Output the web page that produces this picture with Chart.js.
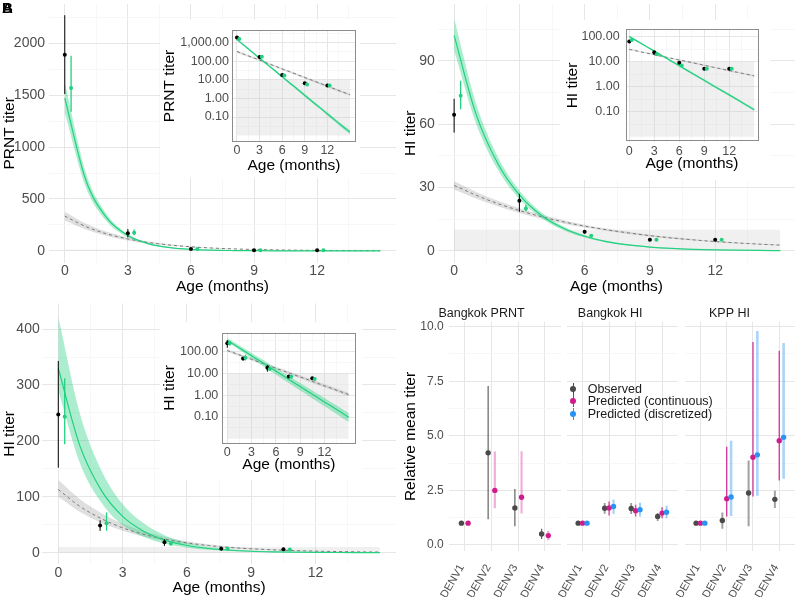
<!DOCTYPE html>
<html>
<head>
<meta charset="utf-8">
<script src="https://cdn.jsdelivr.net/npm/chart.js@4.4.1/dist/chart.umd.min.js"></script>
<style>
  html, body { margin:0; padding:0; background:#fff; }
  body { width:799px; height:597px; position:relative; overflow:hidden; font-family:'Liberation Sans', Arial, sans-serif; }
  canvas { position:absolute; }
  .tag { position:absolute; left:2px; top:0px; font-weight:bold; font-size:15px; line-height:16px; color:#000; }
  .lrow { position:absolute; white-space:nowrap; height:12px; line-height:12px; font-size:12.5px; color:#1a1a1a; }
  .mk { position:absolute; left:0; top:0; width:8px; height:12px; }
  .mk .ln { position:absolute; left:3.4px; top:0; width:1.2px; height:12px; }
  .mk .dt { position:absolute; left:1px; top:3px; width:6px; height:6px; border-radius:50%; }
  .lt { position:absolute; left:18.4px; top:0; }
</style>
</head>
<body>
<canvas id="mainA" width="400" height="296" style="left:0;top:0"></canvas>
<canvas id="mainB" width="399" height="296" style="left:400px;top:0"></canvas>
<canvas id="mainC" width="400" height="301" style="left:0;top:296px"></canvas>
<canvas id="facet1" width="165" height="297" style="left:400px;top:300px"></canvas>
<canvas id="facet2" width="142" height="297" style="left:540px;top:300px"></canvas>
<canvas id="facet3" width="139" height="297" style="left:660px;top:300px"></canvas>
<canvas id="insetA" width="200" height="158" style="left:160px;top:20px"></canvas>
<canvas id="insetB" width="210" height="160" style="left:560px;top:20px"></canvas>
<canvas id="insetC" width="202" height="158" style="left:160px;top:322px"></canvas>
<div id="legend"></div>
<div class="tag">A</div><div class="tag">B</div>
<script>
// ---------------- DATA ----------------
const curveMonths = [0,1,2,3,4,5,6,7,8,9,10,11,12,13,14,15];
const detectionLimit = 10;
const rectFloor = 0.01;

// Panel A: Bangkok PRNT
const prntObsAge   = [0, 3, 6, 9, 12];
const prntObsTiter = [1890, 170, 18, 6.5, 5];
const prntObsLo    = [1510, 130, 15, 5.8, 4.5];
const prntObsHi    = [2270, 210, 21, 7.2, 5.5];
const prntPredAge   = [0.3, 3.3, 6.3, 9.3, 12.3];
const prntPredTiter = [1570, 175, 17, 5.7, 5];
const prntPredLo    = [1340, 150, 15, 5.2, 4.6];
const prntPredHi    = [1880, 205, 19, 6.2, 5.4];
const prntFit   = [1470, 682, 317, 147, 68, 32, 14.7, 6.8, 3.2, 1.47, 0.68, 0.32, 0.147, 0.068, 0.032, 0.0155];
const prntFitLo = [1330, 614, 284, 131, 60, 28, 12.8, 5.9, 2.7, 1.25, 0.57, 0.27, 0.12, 0.055, 0.025, 0.012];
const prntFitHi = [1620, 752, 350, 163, 76, 36, 16.6, 7.8, 3.7, 1.72, 0.81, 0.38, 0.18, 0.084, 0.04, 0.02];
const prntExp   = [335, 234, 164, 115, 80, 56, 39, 27.5, 19.2, 13.4, 9.4, 6.6, 4.6, 3.2, 2.25, 1.6];
const prntExpLo = [292, 205, 144, 101, 70, 49, 34, 24, 16.8, 11.7, 8.2, 5.7, 4.0, 2.8, 1.95, 1.38];
const prntExpHi = [378, 263, 184, 129, 90, 63, 44, 31, 21.6, 15.1, 10.6, 7.4, 5.2, 3.6, 2.55, 1.82];

// Panel B: Bangkok HI
const bhiObsAge   = [0, 3, 6, 9, 12];
const bhiObsTiter = [64.5, 23.7, 9.0, 5.2, 5.2];
const bhiObsLo    = [56, 18.5, 8.2, 4.8, 4.8];
const bhiObsHi    = [72, 27, 9.8, 5.6, 5.6];
const bhiPredAge   = [0.3, 3.3, 6.3, 9.3, 12.3];
const bhiPredTiter = [73.5, 20.1, 7.1, 5.2, 5.2];
const bhiPredLo    = [67, 18.6, 6.6, 4.9, 4.9];
const bhiPredHi    = [80.5, 21.8, 7.6, 5.5, 5.5];
const bhiFit   = [102, 65, 41.5, 26.5, 16.9, 10.8, 6.9, 4.4, 2.8, 1.8, 1.14, 0.73, 0.47, 0.30, 0.19, 0.12];
const bhiFitLo = [95, 60.5, 38.5, 24.5, 15.6, 9.9, 6.3, 4.0, 2.55, 1.62, 1.03, 0.66, 0.42, 0.27, 0.17, 0.105];
const bhiFitHi = [110, 70, 44.7, 28.6, 18.3, 11.7, 7.5, 4.8, 3.1, 1.98, 1.26, 0.81, 0.52, 0.33, 0.21, 0.135];
const bhiExp   = [31, 26.4, 22.4, 19.1, 16.2, 13.8, 11.7, 10.0, 8.5, 7.2, 6.1, 5.2, 4.4, 3.75, 3.2, 2.7];
const bhiExpLo = [29.1, 24.8, 21.1, 17.9, 15.2, 13.0, 11.0, 9.4, 8.0, 6.8, 5.7, 4.9, 4.1, 3.5, 3.0, 2.5];
const bhiExpHi = [32.9, 28.0, 23.7, 20.2, 17.2, 14.6, 12.4, 10.6, 9.0, 7.6, 6.5, 5.5, 4.7, 4.0, 3.4, 2.9];

// Panel C: KPP HI
const khiObsAge   = [0, 1.95, 4.95, 7.6, 10.5];
const khiObsTiter = [247, 48.5, 18.5, 7.2, 6];
const khiObsLo    = [152, 39, 12, 6.2, 5.2];
const khiObsHi    = [343, 58, 24, 8.2, 6.8];
const khiPredAge   = [0.3, 2.25, 5.25, 7.9, 10.8];
const khiPredTiter = [243, 52.5, 16, 7, 5.5];
const khiPredLo    = [194, 39, 14, 6.3, 5];
const khiPredHi    = [312, 72, 19, 7.7, 6];
const khiFit   = [330, 192, 112, 65, 38, 22, 12.8, 7.4, 4.3, 2.5, 1.46, 0.85, 0.49, 0.29, 0.17, 0.098];
const khiFitLo = [290, 161, 90, 49, 28, 15.8, 9.0, 5.0, 2.9, 1.65, 0.95, 0.54, 0.31, 0.18, 0.104, 0.059];
const khiFitHi = [422, 250, 148, 87, 52, 30.4, 17.9, 10.5, 6.2, 3.65, 2.16, 1.28, 0.745, 0.444, 0.262, 0.152];
const khiExp   = [113, 83, 61, 44.5, 32.6, 23.9, 17.5, 12.8, 9.4, 6.9, 5.1, 3.7, 2.7, 2.0, 1.46, 1.07];
const khiExpLo = [100, 73, 53.5, 39, 28.5, 20.9, 15.2, 11.1, 8.1, 5.95, 4.4, 3.15, 2.3, 1.7, 1.23, 0.89];
const khiExpHi = [130, 96, 71, 52, 38, 28, 20.6, 15.1, 11.1, 8.2, 6.1, 4.4, 3.25, 2.4, 1.76, 1.3];

// Panel D: relative mean titers
const serotypes = ['DENV1', 'DENV2', 'DENV3', 'DENV4'];
const seriesNames = ['Observed', 'Predicted (continuous)', 'Predicted (discretized)'];
const bkkPrntObs    = [1.0, 4.22, 1.70, 0.50];
const bkkPrntObsLo  = [1.0, 1.18, 0.86, 0.27];
const bkkPrntObsHi  = [1.0, 7.28, 2.57, 0.74];
const bkkPrntCont   = [1.0, 2.50, 2.19, 0.43];
const bkkPrntContLo = [1.0, 1.68, 1.44, 0.22];
const bkkPrntContHi = [1.0, 4.28, 4.30, 0.65];
const bkkHiObs    = [1.0, 1.68, 1.67, 1.31];
const bkkHiObsLo  = [1.0, 1.43, 1.42, 1.10];
const bkkHiObsHi  = [1.0, 1.92, 1.92, 1.46];
const bkkHiCont   = [1.0, 1.70, 1.57, 1.46];
const bkkHiContLo = [1.0, 1.35, 1.30, 1.22];
const bkkHiContHi = [1.0, 1.99, 1.84, 1.73];
const bkkHiDisc   = [1.0, 1.76, 1.62, 1.50];
const bkkHiDiscLo = [1.0, 1.42, 1.30, 1.22];
const bkkHiDiscHi = [1.0, 2.08, 1.93, 1.80];
const kppHiObs    = [1.0, 1.12, 2.38, 2.09];
const kppHiObsLo  = [1.0, 0.74, 0.86, 1.70];
const kppHiObsHi  = [1.0, 1.49, 3.87, 2.48];
const kppHiCont   = [1.0, 2.12, 4.02, 4.78];
const kppHiContLo = [1.0, 1.31, 2.22, 2.95];
const kppHiContHi = [1.0, 4.50, 9.30, 8.90];
const kppHiDisc   = [1.0, 2.20, 4.13, 4.93];
const kppHiDiscLo = [1.0, 1.33, 2.26, 3.03];
const kppHiDiscHi = [1.0, 4.78, 9.80, 9.25];

// tick labels
const xMajor = [0, 3, 6, 9, 12];
const xMinor = [1.5, 4.5, 7.5, 10.5, 13.5];
const yMajorA = [0, 500, 1000, 1500, 2000], yMinorA = [250, 750, 1250, 1750, 2250];
const yMajorB = [0, 30, 60, 90], yMinorB = [15, 45, 75, 105];
const yMajorC = [0, 100, 200, 300, 400], yMinorC = [50, 150, 250, 350];
const logMajor = [0.1, 1, 10, 100, 1000];
const logLabels = ['0.10', '1.00', '10.00', '100.00', '1,000.00'];
const logMinor = [0.0316, 0.316, 3.16, 31.6, 316, 3162];
const relMajor = [0, 2.5, 5, 7.5, 10];
const relLabels = ['0.0', '2.5', '5.0', '7.5', '10.0'];
const relMinor = [1.25, 3.75, 6.25, 8.75];

// ---------------- STYLE ----------------
Chart.defaults.font.family = "'Liberation Sans', Arial, sans-serif";
const TICK_COL = '#4d4d4d', TITLE_COL = '#000000';
const GRID_MAJ = '#e6e6e6', GRID_MIN = '#f3f3f3';
const GREEN = '#22d07f', GREEN_BAND = 'rgba(34,208,127,0.38)';
const GRAY_LINE = '#7a7a7a', GRAY_BAND = 'rgba(140,140,140,0.28)';
const RECT_FILL = 'rgba(200,200,200,0.28)';
const OBS_COL = '#4a4a4a', CONT_COL = '#d01c8b', DISC_COL = '#2a94f2';
const dodgeWidth = 0.5;

function axis(o) {
  const all = o.majors.concat(o.minors).sort((a, b) => a - b);
  const isMaj = v => o.majors.includes(v);
  return {
    type: o.type, min: o.min, max: o.max, bounds: 'data',
    afterBuildTicks: s => { s.ticks = all.filter(v => v >= o.min && v <= o.max).map(v => ({value: v})); },
    afterFit: s => {
      if (o.horizontal) s.height = o.size; else s.width = o.size;
      s.paddingTop = 0; s.paddingBottom = 0; s.paddingLeft = 0; s.paddingRight = 0;
    },
    grid: {
      color: c => (c.tick && isMaj(c.tick.value)) ? GRID_MAJ : GRID_MIN,
      lineWidth: c => (c.tick && isMaj(c.tick.value)) ? 1 : 0.7,
      drawTicks: false
    },
    border: {display: false},
    ticks: {
      display: o.showTicks !== false,
      callback: v => { const i = o.majors.indexOf(v); return i >= 0 ? o.labels[i] : ''; },
      color: TICK_COL, font: {size: o.tickFont}, padding: o.tickPad,
      autoSkip: false, maxRotation: o.rot || 0, minRotation: o.rot || 0,
      labelOffset: o.labelOffset || 0
    },
    title: o.title ? {display: true, text: o.title, color: TITLE_COL, font: {size: 15.5}, padding: o.titlePad}
                   : {display: false}
  };
}

function baseOpts(pad, scales, titleText) {
  return {
    responsive: false, animation: false, devicePixelRatio: 1, events: [],
    layout: {padding: pad},
    plugins: {
      legend: {display: false}, tooltip: {enabled: false},
      title: titleText ? {display: true, text: titleText, color: '#1a1a1a',
                          font: {size: 12.5, weight: 'normal'}, padding: {top: 6.5, bottom: 0.4}}
                       : {display: false}
    },
    scales
  };
}

const insetFrame = {
  id: 'insetFrame',
  beforeDraw(chart) {
    const c = chart.ctx; c.save(); c.fillStyle = '#ffffff'; c.fillRect(0, 0, chart.width, chart.height); c.restore();
  },
  afterDraw(chart) {
    const a = chart.chartArea, c = chart.ctx;
    c.save(); c.strokeStyle = '#8c8c8c'; c.lineWidth = 1;
    c.strokeRect(Math.round(a.left) + 0.5, Math.round(a.top) + 0.5, Math.round(a.right - a.left) - 1, Math.round(a.bottom - a.top) - 1);
    c.restore();
  }
};

const NONE = 'rgba(0,0,0,0)';
function titerDatasets(p, log) {
  const curve = ys => curveMonths.map((x, i) => ({x, y: ys[i]}));
  const pts = (xs, ys) => xs.map((x, i) => ({x, y: ys[i]}));
  const bars = (xs, lo, hi) => xs.flatMap((x, i) => [{x, y: lo[i]}, {x, y: hi[i]}, {x, y: null}]);
  const first = curveMonths[0], last = curveMonths[curveMonths.length - 1];
  const sm = {cubicInterpolationMode: 'monotone', pointRadius: 0};
  return [
    {data: [{x: first, y: detectionLimit}, {x: last, y: detectionLimit}], fill: {value: log ? rectFloor : 0},
     backgroundColor: RECT_FILL, borderColor: NONE, borderWidth: 0, pointRadius: 0, order: 20},
    {data: curve(p.expHi), ...sm, borderColor: NONE, borderWidth: 0, fill: false, order: 19},
    {data: curve(p.expLo), ...sm, borderColor: NONE, borderWidth: 0, fill: '-1', backgroundColor: GRAY_BAND, order: 18},
    {data: curve(p.fitHi), ...sm, borderColor: NONE, borderWidth: 0, fill: false, order: 17},
    {data: curve(p.fitLo), ...sm, borderColor: NONE, borderWidth: 0, fill: '-1', backgroundColor: GREEN_BAND, order: 16},
    {data: curve(p.exp), ...sm, borderColor: GRAY_LINE, borderWidth: 1, borderDash: [3, 3], fill: false, order: 15},
    {data: curve(p.fit), ...sm, borderColor: GREEN, borderWidth: 1.2, fill: false, order: 14},
    {data: bars(p.obsAge, p.obsLo, p.obsHi), borderColor: '#000', borderWidth: 1, pointRadius: 0, fill: false, order: 13},
    {data: pts(p.obsAge, p.obs), showLine: false, pointRadius: 2, pointBackgroundColor: '#000', pointBorderWidth: 0, order: 12},
    {data: bars(p.predAge, p.predLo, p.predHi), borderColor: GREEN, borderWidth: 1.3, pointRadius: 0, fill: false, order: 11},
    {data: pts(p.predAge, p.pred), showLine: false, pointRadius: 2, pointBackgroundColor: GREEN, pointBorderWidth: 0, order: 10}
  ];
}

function titerChart(id, p, log, g) {
  const x = axis({type: 'linear', min: g.xMin, max: g.xMax, majors: xMajor, minors: xMinor, labels: xMajor.map(String),
                  horizontal: true, size: g.xSize, tickFont: g.tf, tickPad: g.xPad, title: 'Age (months)',
                  titlePad: {top: 0, bottom: g.xtPad}});
  const y = axis({type: log ? 'logarithmic' : 'linear', min: g.yMin, max: g.yMax, majors: g.yMajor, minors: g.yMinor,
                  labels: g.yLabels, size: g.ySize, tickFont: g.tf, tickPad: g.yPad, title: p.label,
                  titlePad: {top: g.ytPad, bottom: 0}});
  new Chart(document.getElementById(id), {
    type: 'line', data: {datasets: titerDatasets(p, log)},
    options: baseOpts(g.pad, {x, y}), plugins: log ? [insetFrame] : []
  });
}

const panelA = {label: 'PRNT titer', obsAge: prntObsAge, obs: prntObsTiter, obsLo: prntObsLo, obsHi: prntObsHi,
  predAge: prntPredAge, pred: prntPredTiter, predLo: prntPredLo, predHi: prntPredHi,
  fit: prntFit, fitLo: prntFitLo, fitHi: prntFitHi, exp: prntExp, expLo: prntExpLo, expHi: prntExpHi};
const panelB = {label: 'HI titer', obsAge: bhiObsAge, obs: bhiObsTiter, obsLo: bhiObsLo, obsHi: bhiObsHi,
  predAge: bhiPredAge, pred: bhiPredTiter, predLo: bhiPredLo, predHi: bhiPredHi,
  fit: bhiFit, fitLo: bhiFitLo, fitHi: bhiFitHi, exp: bhiExp, expLo: bhiExpLo, expHi: bhiExpHi};
const panelC = {label: 'HI titer', obsAge: khiObsAge, obs: khiObsTiter, obsLo: khiObsLo, obsHi: khiObsHi,
  predAge: khiPredAge, pred: khiPredTiter, predLo: khiPredLo, predHi: khiPredHi,
  fit: khiFit, fitLo: khiFitLo, fitHi: khiFitHi, exp: khiExp, expLo: khiExpLo, expHi: khiExpHi};

// main panels
titerChart('mainA', panelA, false, {xMin: -0.75, xMax: 15.75, xSize: 33.4, xPad: 0, xtPad: 0.4, tf: 14,
  yMin: -113, yMax: 2378, yMajor: yMajorA, yMinor: yMinorA, yLabels: yMajorA.map(String), ySize: 49, yPad: 4, ytPad: 0,
  pad: {top: 1, right: 3, left: 0, bottom: 0}});
titerChart('mainB', panelB, false, {xMin: -0.75, xMax: 15.67, xSize: 33.4, xPad: 0, xtPad: 0.4, tf: 14,
  yMin: -5.57, yMax: 116.9, yMajor: yMajorB, yMinor: yMinorB, yLabels: yMajorB.map(String), ySize: 37.8, yPad: 3, ytPad: 1.7,
  pad: {top: 1, right: 0, left: 0, bottom: 0}});
titerChart('mainC', panelC, false, {xMin: -0.75, xMax: 15.75, xSize: 32.6, xPad: 0, xtPad: 0.4, tf: 14,
  yMin: -21, yMax: 446, yMajor: yMajorC, yMinor: yMinorC, yLabels: yMajorC.map(String), ySize: 42.2, yPad: 2.5, ytPad: 0,
  pad: {top: 7.4, right: 3.9, left: 0, bottom: 0}});

// insets (log scale)
titerChart('insetA', panelA, true, {xMin: -0.66, xMax: 15.8, xSize: 36, xPad: 1.5, xtPad: 3.2, tf: 12.5,
  yMin: 0.00453, yMax: 4820, yMajor: logMajor, yMinor: logMinor, yLabels: logLabels, ySize: 72, yPad: 3, ytPad: 0,
  pad: {top: 10, right: 4, left: 0, bottom: 0}});
titerChart('insetB', panelB, true, {xMin: -0.43, xMax: 15.49, xSize: 38.3, xPad: 2.5, xtPad: 6.7, tf: 12.5,
  yMin: 0.0063, yMax: 198, yMajor: logMajor, yMinor: logMinor, yLabels: logLabels, ySize: 65.7, yPad: 6, ytPad: 3.2,
  pad: {top: 9.3, right: 11.7, left: 0, bottom: 0}});
titerChart('insetC', panelC, true, {xMin: -0.69, xMax: 15.9, xSize: 36.7, xPad: 1.9, xtPad: 5.7, tf: 12.5,
  yMin: 0.0062, yMax: 745, yMajor: logMajor, yMinor: logMinor, yLabels: logLabels, ySize: 61.7, yPad: 3.4, ytPad: 0,
  pad: {top: 10.7, right: 6, left: 0, bottom: 0}});

// facets
function facetChart(id, title, groups, g) {
  const n = groups.length, ds = [];
  groups.forEach((s, gi) => {
    const off = (gi - (n - 1) / 2) * dodgeWidth / n;
    const xs = serotypes.map((_, i) => i + 1 + off);
    ds.push({data: xs.flatMap((x, i) => [{x, y: s.lo[i]}, {x, y: s.hi[i]}, {x, y: null}]),
             borderColor: s.barColor, borderWidth: s.barWidth, pointRadius: 0, fill: false, order: 10 - gi * 2});
    ds.push({data: xs.map((x, i) => ({x, y: s.vals[i]})), showLine: false, pointRadius: 2.7, pointBorderWidth: 0,
             pointBackgroundColor: s.color, pointBorderColor: s.color, order: 9 - gi * 2});
  });
  const x = axis({type: 'linear', min: 0.4, max: 4.6, majors: [1, 2, 3, 4], minors: [], labels: serotypes,
                  horizontal: true, size: 45.9, tickFont: 11, tickPad: 11, rot: 60, labelOffset: -3});
  const y = axis({type: 'linear', min: -0.28, max: 10.22, majors: relMajor, minors: relMinor, labels: relLabels,
                  size: g.ySize, tickFont: 12, tickPad: 5, showTicks: g.showY,
                  title: g.showY ? 'Relative mean titer' : null, titlePad: {top: 1.7, bottom: 0}});
  new Chart(document.getElementById(id), {
    type: 'line', data: {datasets: ds},
    options: baseOpts({top: 0, right: g.right, left: 0, bottom: 0}, {x, y}, title)
  });
}

facetChart('facet1', 'Bangkok PRNT', [
  {vals: bkkPrntObs, lo: bkkPrntObsLo, hi: bkkPrntObsHi, color: OBS_COL, barColor: 'rgba(70,70,70,0.85)', barWidth: 1.2},
  {vals: bkkPrntCont, lo: bkkPrntContLo, hi: bkkPrntContHi, color: CONT_COL, barColor: 'rgba(208,28,139,0.35)', barWidth: 2.2}
], {ySize: 48.7, showY: true, right: 2});
facetChart('facet2', 'Bangkok HI', [
  {vals: bkkHiObs, lo: bkkHiObsLo, hi: bkkHiObsHi, color: OBS_COL, barColor: 'rgba(70,70,70,0.55)', barWidth: 1.8},
  {vals: bkkHiCont, lo: bkkHiContLo, hi: bkkHiContHi, color: CONT_COL, barColor: 'rgba(208,28,139,0.75)', barWidth: 1.5},
  {vals: bkkHiDisc, lo: bkkHiDiscLo, hi: bkkHiDiscHi, color: DISC_COL, barColor: 'rgba(42,148,242,0.45)', barWidth: 2}
], {ySize: 26.7, showY: false, right: 1.7});
facetChart('facet3', 'KPP HI', [
  {vals: kppHiObs, lo: kppHiObsLo, hi: kppHiObsHi, color: OBS_COL, barColor: 'rgba(70,70,70,0.5)', barWidth: 2},
  {vals: kppHiCont, lo: kppHiContLo, hi: kppHiContHi, color: CONT_COL, barColor: 'rgba(208,28,139,0.9)', barWidth: 1.3},
  {vals: kppHiDisc, lo: kppHiDiscLo, hi: kppHiDiscHi, color: DISC_COL, barColor: 'rgba(42,148,242,0.4)', barWidth: 2.6}
], {ySize: 24.7, showY: false, right: 0});

// legend (HTML text)
const legendColors = [OBS_COL, CONT_COL, DISC_COL];
const legend = document.getElementById('legend');
seriesNames.forEach((name, i) => {
  const row = document.createElement('div');
  row.className = 'lrow';
  row.style.left = '569.3px';
  row.style.top = (383.3 + i * 12.1) + 'px';
  row.innerHTML = '<span class="mk"><i class="ln" style="background:' + legendColors[i] + '"></i>' +
                  '<i class="dt" style="background:' + legendColors[i] + '"></i></span>' +
                  '<span class="lt">' + name + '</span>';
  legend.appendChild(row);
});
</script>
</body>
</html>
